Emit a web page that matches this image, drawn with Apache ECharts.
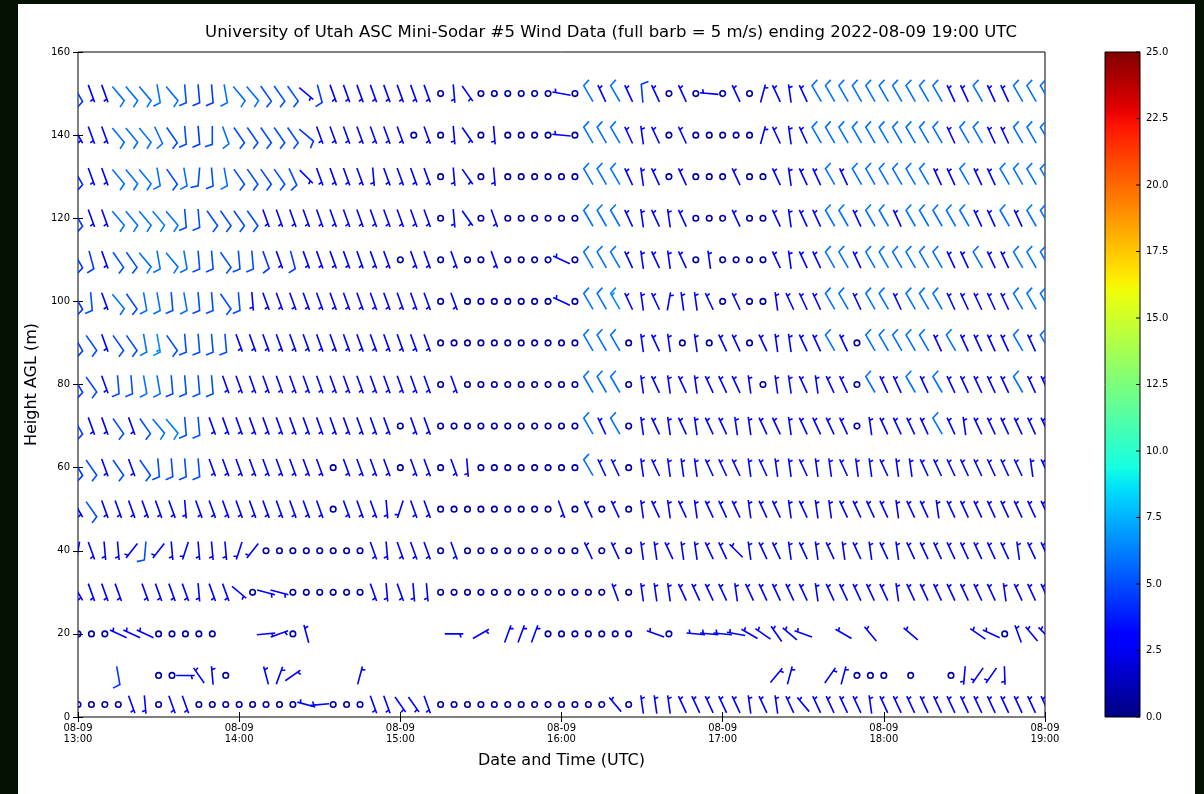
<!DOCTYPE html>
<html>
<head>
<meta charset="utf-8">
<title>Mini-Sodar wind barbs</title>
<script src="https://cdn.jsdelivr.net/npm/echarts@6/dist/echarts.min.js"></script>
<style>
  html, body { margin: 0; padding: 0; background: #031203; }
  #frame { position: absolute; left: 18px; top: 4px; width: 1177px; height: 790px; background: #fff; }
  #chart { position: absolute; left: 0; top: 0; width: 1204px; height: 794px; }
</style>
</head>
<body>
<div id="frame"></div>
<div id="chart"></div>
<script>
// heights (m AGL) of the sodar gates, bottom to top
const heights = [3, 10, 20, 30, 40, 50, 60, 70, 80, 90, 100, 110, 120, 130, 140, 150];
// x tick labels, one per hour
const tickLabels = ['08-09\n13:00', '08-09\n14:00', '08-09\n15:00', '08-09\n16:00',
                    '08-09\n17:00', '08-09\n18:00', '08-09\n19:00'];
// colorbar ticks (m/s)
const cbTicks = [0, 2.5, 5, 7.5, 10, 12.5, 15, 17.5, 20, 22.5, 25];

// wind direction (deg, from) and speed (m/s), one value every 5 minutes from 13:00 to 19:00
const dir150 = [150,160,160,140,140,140,170,140,175,175, 175,170,140,140,145,145,145,130,165,160, 160,160,160,160,160,160,160,0,175,145, 0,0,0,0,0,0,280,0,330,335, 330,335,355,335,0,335,0,275,0,335, 0,15,335,352,335,330,330,330,330,330, 330,330,330,330,330,335,335,330,335,335, 330,330,330];
const spd150 = [4.5,3,3,5.9,5.9,5.9,5.9,5.9,5,4.5, 4.5,5.9,5.9,5.9,5,5,5,3,4.5,3, 3,3,3,3,3,3,3,0.8,3,3, 0.8,0.8,0.8,0.8,0.8,0.8,3,0.8,5.9,3, 5.9,3,4.5,3,0.8,3,0.8,3,0.8,3, 0.8,3,3,3,3,5.9,5.9,5.9,5.9,5.9, 5.9,5.9,5.9,5.9,5.9,3,3,5.9,3,3, 5.9,5.9,5.9];

const dir140 = [150,160,160,140,140,140,155,145,175,175, 180,160,145,145,145,145,145,130,160,160, 160,160,160,160,160,0,160,0,175,145, 0,175,0,0,0,0,275,0,330,330, 330,335,352,335,0,335,0,0,0,0, 0,15,335,352,335,330,330,330,330,330, 330,330,330,330,330,335,330,330,335,335, 330,330,330];
const spd140 = [3,3,3,5.9,5.9,6,5.9,5,5,4.5, 5,5.9,5,5,5,5,5,4.5,3,3, 3,3,3,3,3,0.8,3,0.8,3,3, 0.8,3,0.8,0.8,0.8,0.8,3,0.8,5.9,5.9, 5.9,3,3,3,0.8,3,0.8,0.8,0.8,0.8, 0.8,3,3,3,3,5.9,5.9,5.9,5.9,5.9, 5.9,5.9,5.9,5.9,5.9,3,5.9,5.9,3,3, 5.9,5.9,5.9];

const dir130 = [150,160,160,140,140,140,170,145,170,185, 175,170,145,145,145,145,155,135,160,160, 160,160,175,160,160,160,160,0,175,145, 0,175,0,0,0,0,0,0,330,330, 330,335,352,335,0,335,0,0,0,335, 0,0,335,352,335,335,330,335,330,330, 330,330,330,330,335,335,330,335,335,330, 330,330,330];
const spd130 = [4,3,3,5.9,5.9,5.9,5.9,5,5.9,5, 5,5.9,5,5,5,5,5,3,3,3, 3,3,3,3,3,3,3,0.8,3,3, 0.8,3,0.8,0.8,0.8,0.8,0.8,0.8,5.9,5.9, 5.9,3,3,3,0.8,3,0.8,0.8,0.8,3, 0.8,0.8,3,3,3,3,5.9,3,5.9,5.9, 5.9,5.9,5.9,5.9,3,3,5.9,3,3,5.9, 5.9,5.9,5.9];

const dir120 = [150,160,160,140,140,140,140,140,175,175, 145,145,145,145,160,160,160,160,160,160, 160,160,160,160,160,160,160,0,175,145, 0,160,0,0,0,0,0,0,330,330, 330,335,352,335,352,335,0,0,0,335, 0,0,335,352,335,335,330,330,335,330, 330,335,330,330,330,330,330,335,335,330, 335,330,330];
const spd120 = [4.5,3,3,5.9,5.9,5.9,6.2,5.9,5,5, 5,5,5,5,3,3,3,3,3,3, 3,3,3,3,3,3,3,0.8,3,3, 0.8,3,0.8,0.8,0.8,0.8,0.8,0.8,5.9,5.9, 5.9,3,3,3,3,3,0.8,0.8,0.8,3, 0.8,0.8,3,3,3,3,5.9,5.9,3,5.9, 5.9,3,5.9,5.9,5.9,5.9,5.9,3,3,5.9, 3,5.9,5.9];

const dir110 = [150,165,160,145,145,140,170,140,170,175, 175,145,175,175,160,160,165,160,160,160, 160,160,160,160,0,160,160,0,160,0, 0,160,0,0,0,0,295,0,330,330, 330,335,352,335,352,335,0,352,0,0, 0,0,335,352,335,335,330,330,335,330, 330,330,330,330,330,335,335,330,335,335, 330,330,330];
const spd110 = [4.5,4.5,3,5,5,5.9,5.9,5.9,5.9,5, 5,5,5,5,4.5,3,4.5,3,3,3, 3,3,3,3,0.8,3,3,0.8,3,0.8, 0.8,3,0.8,0.8,0.8,0.8,3,0.8,5.9,5.9, 5.9,3,3,3,3,3,0.8,3,0.8,0.8, 0.8,0.8,3,3,3,3,5.9,5.9,3,5.9, 5.9,5.9,5.9,5.9,5.9,3,3,5.9,3,3, 5.9,5.9,5.9];

const dir100 = [150,175,160,140,145,170,170,175,170,175, 175,145,175,175,160,160,160,160,160,160, 160,160,160,160,160,160,160,0,160,0, 0,0,0,0,0,0,295,0,330,330, 330,335,352,335,10,352,352,335,0,335, 0,0,352,335,335,335,330,330,335,330, 330,335,330,330,330,335,335,335,335,335, 330,330,330];
const spd100 = [4.5,5,3,5.9,5,5.9,5.9,5,5.9,5, 5,5,5,3,3,3,3,3,3,3, 3,3,3,3,3,3,3,0.8,3,0.8, 0.8,0.8,0.8,0.8,0.8,0.8,3,0.8,5.9,5.9, 6.5,3,3,3,3,3,3,3,0.8,3, 0.8,0.8,3,3,3,3,5.9,5.9,3,5.9, 5.9,3,5.9,5.9,5.9,3,3,3,3,3, 5.9,5.9,5.9];

const dir90 = [150,145,160,145,145,170,170,145,175,175, 175,175,160,160,160,160,160,160,160,160, 160,160,160,160,160,160,160,0,0,0, 0,0,0,0,0,0,0,0,330,330, 330,0,352,335,352,0,352,0,335,335, 0,335,352,352,335,335,330,335,0,330, 330,330,330,330,335,330,335,335,335,335, 330,335,330];
const spd90 = [4.5,5,3,5,5,5.9,6.5,5,5,5, 5,5,3,3,3,3,3,3,3,3, 3,3,3,3,3,3,3,0.8,0.8,0.8, 0.8,0.8,0.8,0.8,0.8,0.8,0.8,0.8,5.9,5.9, 5.9,0.8,3,3,3,0.8,3,0.8,3,3, 0.8,3,3,3,3,3,5.9,3,0.8,5.9, 5.9,5.9,5.9,5.9,3,5.9,3,3,3,3, 5.9,3,5.9];

const dir80 = [150,145,160,175,175,170,170,175,175,175, 175,160,160,160,160,160,160,160,160,160, 160,160,160,160,160,160,160,0,160,0, 0,0,0,0,0,0,0,0,330,330, 330,0,352,335,352,335,352,335,335,335, 352,0,352,352,335,352,335,335,0,330, 335,335,330,335,330,335,335,335,335,335, 330,335,335];
const spd80 = [4.5,5,3,5,5,5.9,5.9,5,5,5, 5,3,3,3,3,3,3,3,3,3, 3,3,3,3,3,3,3,0.8,3,0.8, 0.8,0.8,0.8,0.8,0.8,0.8,0.8,0.8,5.9,5.9, 5.9,0.8,3,3,3,3,3,3,3,3, 3,0.8,3,3,3,3,3,3,0.8,5.9, 3,3,5.9,3,5.9,3,3,3,3,3, 5.9,3,3];

const dir70 = [150,160,160,145,160,145,140,140,175,175, 160,160,160,160,160,160,160,160,160,160, 160,160,160,160,0,160,160,0,0,0, 0,0,0,0,0,0,0,0,330,335, 330,0,352,335,352,335,352,335,335,352, 352,335,335,352,335,335,335,335,0,352, 335,335,335,335,330,335,352,335,335,335, 335,335,335];
const spd70 = [4.5,3,3,5,3,5,5.9,6.2,5,5, 3,3,3,3,3,3,3,3,3,3, 3,3,3,3,0.8,3,3,0.8,0.8,0.8, 0.8,0.8,0.8,0.8,0.8,0.8,0.8,0.8,5.9,3, 5.9,0.8,3,3,3,3,3,3,3,3, 3,3,3,3,3,3,3,3,0.8,3, 3,3,3,3,5.9,3,3,3,3,3, 3,3,3];

const dir60 = [150,145,160,145,160,145,175,175,175,175, 160,160,160,160,160,160,160,160,160,0, 160,160,160,160,0,160,160,0,160,175, 0,0,0,0,0,0,0,0,330,335, 335,0,352,335,352,352,352,335,335,335, 352,335,352,352,335,352,352,335,352,352, 335,352,352,335,335,335,335,335,335,335, 335,352,335];
const spd60 = [4.5,5,3,5,3,5,5,5,5,5, 3,3,3,3,3,3,3,3,3,0.8, 3,3,3,3,0.8,3,3,0.8,3,3, 0.8,0.8,0.8,0.8,0.8,0.8,0.8,0.8,5.9,3, 3,0.8,3,3,3,3,3,3,3,3, 3,3,3,3,3,3,3,3,3,3, 3,3,3,3,3,3,3,3,3,3, 3,3,3];

const dir50 = [150,145,160,160,160,160,160,160,175,160, 160,160,160,160,160,160,160,160,160,0, 160,160,160,175,198,160,160,0,0,0, 0,0,0,0,0,0,160,0,335,0, 335,0,352,335,352,335,352,335,335,335, 352,335,335,352,335,352,352,335,335,335, 335,352,335,335,352,335,335,335,335,335, 335,335,335];
const spd50 = [3,5,3,3,3,3,3,3,3,3, 3,3,3,3,3,3,3,3,3,0.8, 3,3,3,3,3,3,3,0.8,0.8,0.8, 0.8,0.8,0.8,0.8,0.8,0.8,3,0.8,3,0.8, 3,0.8,3,3,3,3,3,3,3,3, 3,3,3,3,3,3,3,3,3,3, 3,3,3,3,3,3,3,3,3,3, 3,3,3];

const dir40 = [190,160,175,175,218,185,218,175,198,175, 175,175,198,218,0,0,0,0,0,0, 0,0,160,175,160,160,160,0,160,0, 0,0,0,0,0,0,0,0,335,0, 335,0,352,352,335,352,352,335,335,315, 352,335,335,352,335,352,335,352,335,352, 335,352,335,335,335,335,335,335,335,335, 352,335,335];
const spd40 = [3,3,3,3,3,5,3,3,3,3, 3,3,3,3,0.8,0.8,0.8,0.8,0.8,0.8, 0.8,0.8,3,3,3,3,3,0.8,3,0.8, 0.8,0.8,0.8,0.8,0.8,0.8,0.8,0.8,3,0.8, 3,0.8,3,3,3,3,3,3,3,3, 3,3,3,3,3,3,3,3,3,3, 3,3,3,3,3,3,3,3,3,3, 3,3,3];

const dir30 = [150,160,160,160,null,160,160,160,160,175, 160,160,130,0,105,105,0,0,0,0, 0,0,160,175,160,175,175,0,0,0, 0,0,0,0,0,0,0,0,0,0, 340,0,352,352,352,335,335,335,335,352, 335,335,335,335,335,352,335,335,335,335, 335,352,335,335,335,335,335,335,335,352, 335,335,335];
const spd30 = [3,3,3,3,null,3,3,3,3,3, 3,3,3,0.8,3,3,0.8,0.8,0.8,0.8, 0.8,0.8,3,3,3,3,3,0.8,0.8,0.8, 0.8,0.8,0.8,0.8,0.8,0.8,0.8,0.8,0.8,0.8, 3,0.8,3,3,3,3,3,3,3,3, 3,3,3,3,3,3,3,3,3,3, 3,3,3,3,3,3,3,3,3,3, 3,3,3];

const dir20 = [0,0,0,295,295,295,0,0,0,0, 0,null,null,null,85,70,0,345,null,null, null,null,null,null,null,null,null,null,90,null, 60,null,20,20,20,0,0,0,0,0, 0,0,null,290,0,null,275,275,275,280, 300,305,325,310,290,null,null,300,null,320, null,null,310,null,null,null,null,305,295,0, 340,320,315];
const spd20 = [0.8,0.8,0.8,3,3,3,0.8,0.8,0.8,0.8, 0.8,null,null,null,3,3,0.8,3,null,null, null,null,null,null,null,null,null,null,3,null, 3,null,3,3,3,0.8,0.8,0.8,0.8,0.8, 0.8,0.8,null,3,0.8,null,3,3,3,3, 3,3,3,3,3,null,null,3,null,3, null,null,3,null,null,null,null,3,3,0.8, 3,3,3];

const dir10 = [null,null,null,170,null,null,0,0,90,325, 355,0,null,null,345,20,55,null,null,null, null,15,null,null,null,null,null,null,null,null, null,null,null,null,null,null,null,null,null,null, null,null,null,null,null,null,null,null,null,null, null,null,40,15,null,null,35,15,0,0, 0,null,0,null,null,0,185,215,215,178, null,null,null];
const spd10 = [null,null,null,4.5,null,null,0.8,0.8,3,3, 3,0.8,null,null,3,3,3,null,null,null, null,3,null,null,null,null,null,null,null,null, null,null,null,null,null,null,null,null,null,null, null,null,null,null,null,null,null,null,null,null, null,null,3,3,null,null,3,3,0.8,0.8, 0.8,null,0.8,null,null,0.8,3,3,3,3, null,null,null];

const dir3 = [0,0,0,0,160,175,0,160,160,0, 0,0,0,0,0,0,0,285,265,0, 0,0,160,160,145,145,160,0,0,0, 0,0,0,0,0,0,0,0,0,0, 320,0,352,352,352,335,335,335,335,335, 352,335,352,335,320,335,335,335,335,352, 335,335,335,335,335,335,335,335,335,335, 335,335,335];
const spd3 = [0.8,0.8,0.8,0.8,3,3,0.8,3,3,0.8, 0.8,0.8,0.8,0.8,0.8,0.8,0.8,3,3,0.8, 0.8,0.8,3,3,3,3,3,0.8,0.8,0.8, 0.8,0.8,0.8,0.8,0.8,0.8,0.8,0.8,0.8,0.8, 3,0.8,3,3,3,3,3,3,3,3, 3,3,3,3,3,3,3,3,3,3, 3,3,3,3,3,3,3,3,3,3, 3,3,3];

const dirRows = [dir3, dir10, dir20, dir30, dir40, dir50, dir60, dir70, dir80, dir90, dir100, dir110, dir120, dir130, dir140, dir150];
const spdRows = [spd3, spd10, spd20, spd30, spd40, spd50, spd60, spd70, spd80, spd90, spd100, spd110, spd120, spd130, spd140, spd150];

// barb settings: full barb = 5 m/s, half = 2.5
const HALF = 2.5, FULL = 5, FLAG = 25;
const BARB_LEN = 18.5;

// matplotlib jet colormap
function jet(v) {
    v = Math.max(0, Math.min(1, v));
    function interp(pts) {
        for (let i = 1; i < pts.length; i++) {
            if (v <= pts[i][0]) {
                const t = (v - pts[i - 1][0]) / (pts[i][0] - pts[i - 1][0]);
                return pts[i - 1][1] + t * (pts[i][1] - pts[i - 1][1]);
            }
        }
        return pts[pts.length - 1][1];
    }
    const r = interp([[0, 0], [0.35, 0], [0.66, 1], [0.89, 1], [1, 0.5]]);
    const g = interp([[0, 0], [0.125, 0], [0.375, 1], [0.64, 1], [0.91, 0], [1, 0]]);
    const b = interp([[0, 0.5], [0.11, 1], [0.34, 1], [0.65, 0], [1, 0]]);
    return 'rgb(' + Math.round(r * 255) + ',' + Math.round(g * 255) + ',' + Math.round(b * 255) + ')';
}

const barbData = [];
for (let r = 0; r < heights.length; r++) {
    for (let i = 0; i < dirRows[r].length; i++) {
        if (spdRows[r][i] == null) continue;
        barbData.push([i * 5, heights[r], dirRows[r][i], spdRows[r][i]]);
    }
}

function renderBarb(params, api) {
    const p = api.coord([api.value(0), api.value(1)]);
    const dir = api.value(2), spd = api.value(3);
    const color = jet(spd / 25);
    const L = BARB_LEN;
    let mag = HALF * Math.round(spd / HALF);
    const nFlag = Math.floor(mag / FLAG); mag -= nFlag * FLAG;
    const nFull = Math.floor(mag / FULL); mag -= nFull * FULL;
    const hasHalf = mag >= HALF;
    if (!nFlag && !nFull && !hasHalf) {
        return {
            type: 'circle',
            shape: { cx: p[0], cy: p[1], r: 0.15 * L },
            style: { stroke: color, fill: 'none', lineWidth: 1.6 }
        };
    }
    const sp = 0.125 * L, fh = 0.4 * L, fw = 0.25 * L;
    const endy = -L / 2;
    const pts = [[0, endy]];
    let off = L;
    for (let k = 0; k < nFull; k++) {
        pts.push([0, endy + off], [fh, endy + off + fw / 2], [0, endy + off]);
        off -= sp;
    }
    if (hasHalf) {
        if (off === L) { pts.push([0, endy + off]); off -= 1.5 * sp; }
        pts.push([0, endy + off], [fh / 2, endy + off + fw / 4], [0, endy + off]);
    }
    const th = dir * Math.PI / 180;
    const c = Math.cos(th), s = Math.sin(th);
    const scr = pts.map(function (q) {
        return [p[0] + q[0] * c + q[1] * s, p[1] + q[0] * s - q[1] * c];
    });
    return {
        type: 'polyline',
        shape: { points: scr },
        style: { stroke: color, fill: null, lineWidth: 1.6 }
    };
}

const cbStops = [];
for (let k = 0; k <= 64; k++) cbStops.push({ offset: k / 64, color: jet(1 - k / 64) });

// gradient bar with black outline and inward ticks on its right edge
function renderColorbar(params, api) {
    const p0 = api.coord([0, 25]), p1 = api.coord([1, 0]);
    const children = [{
        type: 'rect',
        shape: { x: p0[0], y: p0[1], width: p1[0] - p0[0], height: p1[1] - p0[1] },
        style: { fill: new echarts.graphic.LinearGradient(0, 0, 0, 1, cbStops), stroke: '#000', lineWidth: 1 }
    }];
    cbTicks.forEach(function (t) {
        const q = api.coord([1, t]);
        children.push({
            type: 'line',
            shape: { x1: q[0] - 4, y1: q[1], x2: q[0], y2: q[1] },
            style: { stroke: '#000', lineWidth: 1 }
        });
    });
    return { type: 'group', children: children };
}

const FONT = 'DejaVu Sans';
const tickStyle = { show: true, inside: true, length: 5, lineStyle: { color: '#000', width: 1 } };

const myChart = echarts.init(document.getElementById('chart'), null, { renderer: 'canvas' });
const option = {
    backgroundColor: 'transparent',
    animation: false,
    textStyle: { fontFamily: FONT },
    title: {
        text: 'University of Utah ASC Mini-Sodar #5 Wind Data (full barb = 5 m/s) ending 2022-08-09 19:00 UTC',
        left: 606, top: 19, textAlign: 'center',
        textStyle: { fontFamily: FONT, fontSize: 16.5, fontWeight: 'normal', color: '#000' }
    },
    grid: [
        { left: 78, top: 52, width: 967, height: 665, show: true, borderColor: '#000', borderWidth: 1, backgroundColor: 'transparent' },
        { left: 1105, top: 52, width: 35, height: 665, show: false }
    ],
    xAxis: [
        {
            type: 'value', gridIndex: 0, min: 0, max: 360, interval: 60, position: 'bottom',
            name: 'Date and Time (UTC)', nameLocation: 'middle', nameGap: 36,
            nameTextStyle: { fontFamily: FONT, fontSize: 16, color: '#000' },
            axisLine: { show: false }, axisTick: tickStyle, splitLine: { show: false },
            axisLabel: {
                fontFamily: FONT, fontSize: 10, color: '#000', margin: 6, lineHeight: 11,
                formatter: function (v) { return tickLabels[Math.round(v / 60)]; }
            }
        },
        {
            type: 'value', gridIndex: 0, min: 0, max: 360, interval: 60, position: 'top',
            axisLine: { show: false }, axisTick: tickStyle, splitLine: { show: false }, axisLabel: { show: false }
        },
        { type: 'value', gridIndex: 1, min: 0, max: 1, show: false }
    ],
    yAxis: [
        {
            type: 'value', gridIndex: 0, min: 0, max: 160, interval: 20, position: 'left',
            name: 'Height AGL (m)', nameLocation: 'middle', nameGap: 36,
            nameTextStyle: { fontFamily: FONT, fontSize: 16, color: '#000' },
            axisLine: { show: false }, axisTick: tickStyle, splitLine: { show: false },
            axisLabel: { fontFamily: FONT, fontSize: 10, color: '#000', margin: 8 }
        },
        {
            type: 'value', gridIndex: 0, min: 0, max: 160, interval: 20, position: 'right',
            axisLine: { show: false }, axisTick: tickStyle, splitLine: { show: false }, axisLabel: { show: false }
        },
        {
            type: 'value', gridIndex: 1, min: 0, max: 25, interval: 2.5, position: 'right',
            axisLine: { show: false }, axisTick: { show: false }, splitLine: { show: false },
            axisLabel: {
                fontFamily: FONT, fontSize: 10, color: '#000', margin: 6,
                formatter: function (v) { return v.toFixed(1); }
            }
        }
    ],
    series: [
        {
            name: 'wind', type: 'custom', xAxisIndex: 0, yAxisIndex: 0, clip: true,
            renderItem: renderBarb, data: barbData, silent: true
        },
        {
            name: 'colorbar', type: 'custom', xAxisIndex: 2, yAxisIndex: 2, z: 1,
            renderItem: renderColorbar, data: [[0, 0, 25]], silent: true
        }
    ]
};
myChart.setOption(option);
window.addEventListener('resize', function () { myChart.resize(); });
</script>
</body>
</html>
